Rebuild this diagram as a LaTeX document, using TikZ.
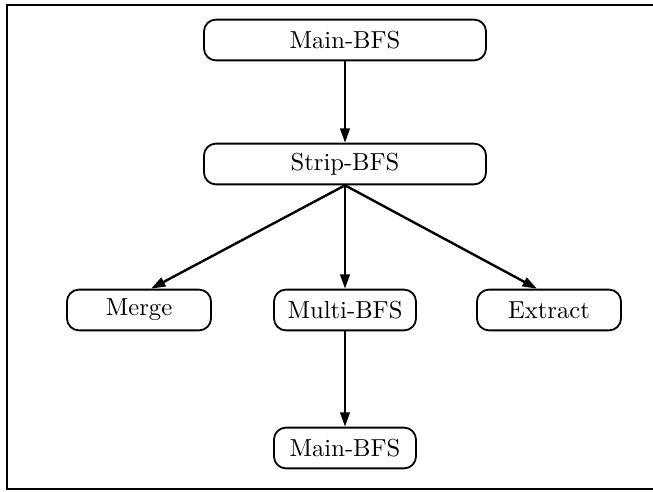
\documentclass[tikz,border=0pt]{standalone}
\usepackage{fontspec}
\newfontfamily\procfont{lmroman10-regular}[Extension=.otf]
\usetikzlibrary{arrows.meta}
\begin{document}
\begin{tikzpicture}[x=0.025cm, y=-0.025cm,
    proc/.style={draw, line width=1.3pt, rounded corners=0.3cm, minimum height=1.02cm,
      inner sep=0pt, font=\procfont\fontsize{17.5}{21}\selectfont},
    call/.style={line width=1.7pt, -{Triangle[length=0.36cm,width=0.24cm]}}]
  \useasboundingbox (0,0) rectangle (653,492);
  \draw[line width=0.8pt] (653,5) -- (7,5) -- (7,489) -- (653,489);
  \node[proc, minimum width=7.05cm] (mainA) at (345,40) {Main-BFS};
  \node[proc, minimum width=7.05cm] (strip) at (345,164) {Strip-BFS};
  \node[proc, minimum width=3.6cm] (merge) at (139,310) {Merge};
  \node[proc, minimum width=3.55cm] (multi) at (345,310) {Multi-BFS};
  \node[proc, minimum width=3.6cm] (extract) at (549,310) {Extract};
  \node[proc, minimum width=3.55cm] (mainB) at (345,448) {Main-BFS};
  \draw[call] (mainA) -- (strip);
  \draw[call] (strip.south) -- ([xshift=0.3cm]merge.north);
  \draw[call] (strip.south) -- (multi.north);
  \draw[call] (strip.south) -- ([xshift=-0.3cm]extract.north);
  \draw[call] (multi) -- (mainB);
\end{tikzpicture}
\end{document}
